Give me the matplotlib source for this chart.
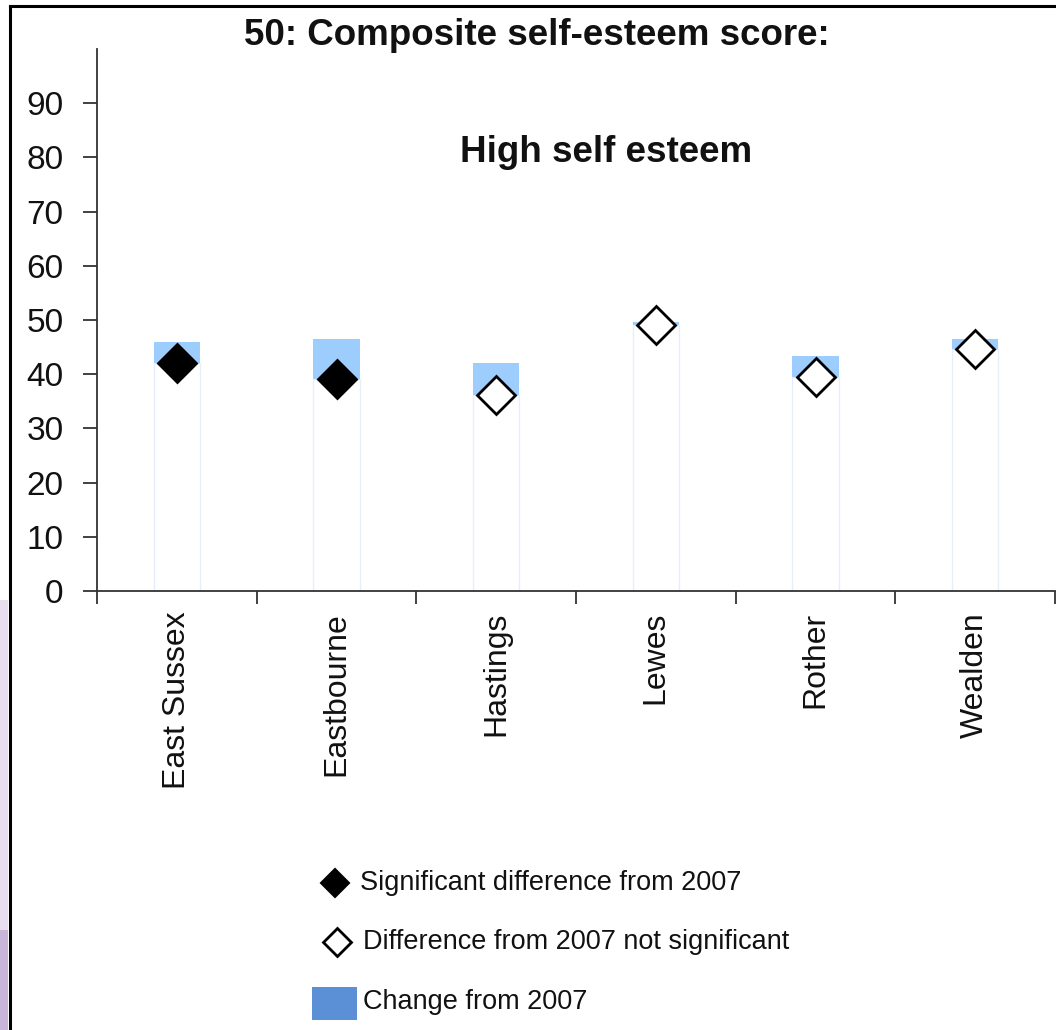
import numpy as np
import matplotlib
matplotlib.use("Agg")
import matplotlib.pyplot as plt
from matplotlib.lines import Line2D
from matplotlib.patches import Rectangle

plt.rcParams['font.family'] = ['Liberation Sans', 'DejaVu Sans']

# ---- data ----
categories = ['East Sussex', 'Eastbourne', 'Hastings', 'Lewes', 'Rother', 'Wealden']
score_now = [42.0, 39.1, 36.1, 49.1, 39.4, 44.6]
score_2007 = [45.9, 46.5, 42.0, 49.7, 43.3, 46.5]
significant = [True, True, False, False, False, False]
y_ticks = [0, 10, 20, 30, 40, 50, 60, 70, 80, 90]

title = '50: Composite self-esteem score:'
subtitle = 'High self esteem'
legend_labels = ['Significant difference from 2007',
                 'Difference from 2007 not significant',
                 'Change from 2007']

W, H = 1056, 1030
fig = plt.figure(figsize=(W / 100, H / 100), dpi=100)

# background decorations (left purple strip, frame)
fig.patches.append(Rectangle((0, 0), 8 / W, 1 - 600 / H, transform=fig.transFigure,
                             facecolor='#e9ddf0', edgecolor='none', zorder=0))
fig.patches.append(Rectangle((0, 0), 8 / W, 1 - 930 / H, transform=fig.transFigure,
                             facecolor='#c9b5da', edgecolor='none', zorder=0))
fig.add_artist(Line2D([9.5 / W, 9.5 / W], [0, 1 - 5.5 / H], transform=fig.transFigure,
                      color='black', lw=2.2, solid_capstyle='projecting'))
fig.add_artist(Line2D([9.5 / W, 1], [1 - 5.5 / H, 1 - 5.5 / H], transform=fig.transFigure,
                      color='black', lw=2.2, solid_capstyle='projecting'))

ax = fig.add_axes([97 / W, 1 - 591 / H, (1055 - 97) / W, (591 - 49) / H])
x = np.arange(len(categories))
now = np.array(score_now)
prev = np.array(score_2007)
low = np.minimum(now, prev)
change = np.abs(prev - now)

bw = 0.29
ax.bar(x, low, width=bw, color='white', edgecolor='#e6eefc', linewidth=1.0, zorder=1)
ax.bar(x, change, bottom=low, width=bw, color='#9dcdfc', edgecolor='none', zorder=2)

for xi, v, s in zip(x, now, significant):
    ax.plot(xi, v, marker='D', markersize=19, markeredgewidth=2.0,
            markerfacecolor='black' if s else 'white', markeredgecolor='black',
            linestyle='none', zorder=5)

ax.set_xlim(-0.5, len(categories) - 0.5)
ax.set_ylim(0, 100)

for sp in ['top', 'right']:
    ax.spines[sp].set_visible(False)
for sp in ['left', 'bottom']:
    ax.spines[sp].set_color('#333333')
    ax.spines[sp].set_linewidth(1.3)

ax.set_yticks(y_ticks)
ax.set_yticklabels([str(t) for t in y_ticks], fontsize=24, color='#111111')
ax.tick_params(axis='y', direction='out', length=10, width=1.3, color='#333333', pad=14)

ax.set_xticks(np.arange(len(categories) + 1) - 0.5)
ax.set_xticklabels([])
ax.tick_params(axis='x', which='major', direction='out', length=9, width=1.3, color='#333333')
ax.set_xticks(x, minor=True)
ax.set_xticklabels(categories, minor=True, rotation=90, fontsize=23, color='#111111',
                   va='top', ha='center')
ax.tick_params(axis='x', which='minor', length=0, pad=15)

# titles
fig.text(537 / W, 1 - 45 / H, title, fontsize=26.5, fontweight='bold',
         ha='center', va='baseline', color='#111111')
fig.text(606 / W, 1 - 162 / H, subtitle, fontsize=26.5, fontweight='bold',
         ha='center', va='baseline', color='#111111')

# legend (manual)
fig.add_artist(Line2D([335 / W], [1 - 883 / H], transform=fig.transFigure, marker='D',
                      markersize=14, markerfacecolor='black', markeredgecolor='black',
                      markeredgewidth=1.5, linestyle='none'))
fig.add_artist(Line2D([337 / W], [1 - 942 / H], transform=fig.transFigure, marker='D',
                      markersize=14, markerfacecolor='white', markeredgecolor='black',
                      markeredgewidth=2.0, linestyle='none'))
fig.patches.append(Rectangle((312 / W, 1 - 1020 / H), 45 / W, 33 / H, transform=fig.transFigure,
                             facecolor='#5b8fd6', edgecolor='none'))
fig.text(360 / W, 1 - 883 / H, legend_labels[0], fontsize=19.5, ha='left', va='center', color='#111111')
fig.text(363 / W, 1 - 942 / H, legend_labels[1], fontsize=19.5, ha='left', va='center', color='#111111')
fig.text(363 / W, 1 - 1002 / H, legend_labels[2], fontsize=19.5, ha='left', va='center', color='#111111')

fig.savefig('out.png', dpi=100)
